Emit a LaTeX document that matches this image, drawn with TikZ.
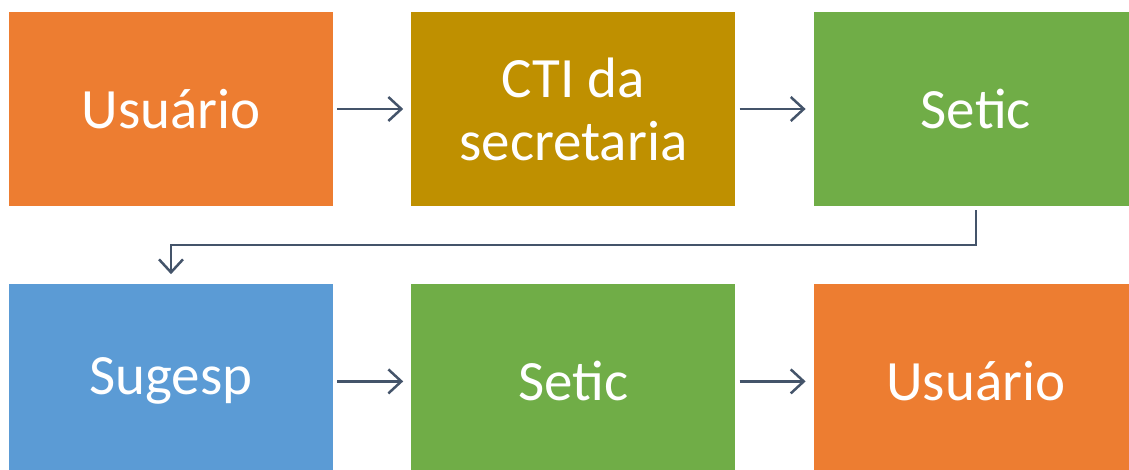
\documentclass[tikz,border=0pt]{standalone}
\usepackage{fontspec}
\setmainfont{Carlito}
\usetikzlibrary{positioning,arrows.meta}
\definecolor{orangebox}{RGB}{237,125,49}
\definecolor{goldbox}{RGB}{191,144,0}
\definecolor{greenbox}{RGB}{112,173,71}
\definecolor{bluebox}{RGB}{91,155,213}
\definecolor{arrowgray}{RGB}{68,84,106}

\begin{document}
\begin{tikzpicture}[x=1pt,y=-1pt,
        stepbox/.style={rectangle, minimum width=324pt, minimum height=194pt, inner sep=0pt, text=white, align=center, font=\fontsize{57}{63}\selectfont},
        flow/.style={-{Straight Barb[length=13pt,width=24pt]}, line width=2.5pt, draw=arrowgray}]
        \useasboundingbox (0,0) rectangle (1129,470);
        \node[stepbox,fill=orangebox] (userone) at (171,109) {Usuário};
        \node[stepbox,fill=goldbox] (cti) [right=78pt of userone] {CTI da\\secretaria};
        \node[stepbox,fill=greenbox] (seticone) [right=78pt of cti] {Setic};
        \node[stepbox,fill=bluebox] (sugesp) [below=78pt of userone] {Sugesp};
        \node[stepbox,fill=greenbox] (setictwo) [right=78pt of sugesp] {Setic};
        \node[stepbox,fill=orangebox] (usertwo) [right=78pt of setictwo] {Usuário};
        \draw[flow] ([xshift=4pt]userone.east) -- ([xshift=-8pt]cti.west);
        \draw[flow] ([xshift=4pt]cti.east) -- ([xshift=-8pt]seticone.west);
        \draw[flow] ([yshift=-4pt]seticone.south) -- ++(0,35) -| ([yshift=10pt]sugesp.north);
        \draw[flow] ([xshift=4pt]sugesp.east) -- ([xshift=-8pt]setictwo.west);
        \draw[flow] ([xshift=4pt]setictwo.east) -- ([xshift=-8pt]usertwo.west);
\end{tikzpicture}
\end{document}
